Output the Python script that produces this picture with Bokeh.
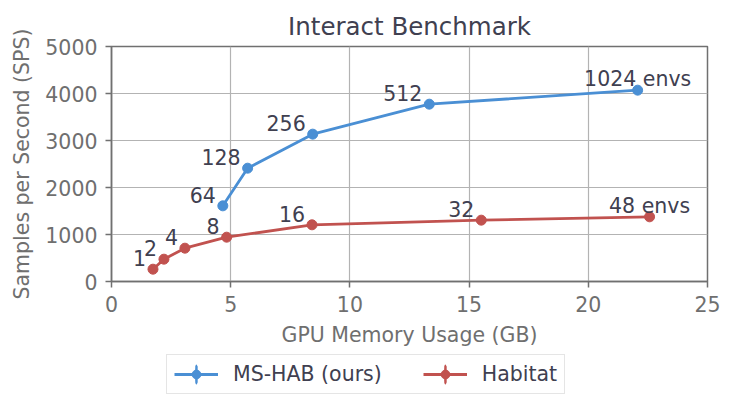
import math
from bokeh.plotting import figure
from bokeh.layouts import column
from bokeh.models import ColumnDataSource, Legend, LegendItem, FixedTicker
from bokeh.core.properties import value
from bokeh.embed import file_html
from bokeh.resources import INLINE

# ---- data ----
mshab_mem = [4.67, 5.71, 8.44, 13.33, 22.07]
mshab_sps = [1610, 2411, 3135, 3773, 4071]
mshab_labels = ["64", "128", "256", "512", "1024 envs"]

habitat_mem = [1.74, 2.20, 3.08, 4.83, 8.41, 15.51, 22.57]
habitat_sps = [262, 475, 709, 943, 1206, 1305, 1376]
habitat_labels = ["1", "2", "4", "8", "16", "32", "48 envs"]

series_names = ["MS-HAB (ours)", "Habitat"]

x_ticks = [0, 5, 10, 15, 20, 25]
y_ticks = [0, 1000, 2000, 3000, 4000, 5000]

BLUE = "#4a8fd4"
RED = "#c1524f"
DARK = "#404050"
GRAY = "#6f6f6f"
FONT = "DejaVu Sans"
FS = "20.5px"

p = figure(width=735, height=349, x_range=(0, 25), y_range=(0, 5000),
           output_backend="svg", toolbar_location=None,
           min_border_left=111, min_border_right=28,
           min_border_top=46, min_border_bottom=68,
           title="Interact Benchmark")

p.title.text_font = FONT
p.title.text_font_size = "24.5px"
p.title.text_font_style = "normal"
p.title.text_color = DARK
p.title.align = "center"
p.title.standoff = 12

p.xaxis.ticker = FixedTicker(ticks=x_ticks)
p.yaxis.ticker = FixedTicker(ticks=y_ticks)
p.xaxis.axis_label = "GPU Memory Usage (GB)"
p.yaxis.axis_label = "Samples per Second (SPS)"
for ax in (p.xaxis[0], p.yaxis[0]):
    ax.axis_label_text_font = FONT
    ax.axis_label_text_font_size = FS
    ax.axis_label_text_font_style = "normal"
    ax.axis_label_text_color = GRAY
    ax.major_label_text_font = FONT
    ax.major_label_text_font_size = FS
    ax.major_label_text_color = GRAY
    ax.axis_line_color = "#707070"
    ax.axis_line_width = 1.5
    ax.major_tick_line_color = "#707070"
    ax.major_tick_line_width = 1.5
    ax.major_tick_out = 6
    ax.major_tick_in = 0
    ax.minor_tick_line_color = None
    ax.major_label_standoff = 8
    ax.axis_label_standoff = 8
p.yaxis[0].major_label_orientation = "horizontal"

p.xgrid.ticker = FixedTicker(ticks=x_ticks)
p.ygrid.ticker = FixedTicker(ticks=y_ticks)
p.grid.grid_line_color = "#b3b3b3"
p.grid.grid_line_width = 1.2
p.outline_line_color = "#707070"
p.outline_line_width = 1.5
p.background_fill_color = "white"
p.border_fill_color = "white"

# legend-only figure underneath (frames are aligned with the main figure)
lf = figure(width=735, height=60, x_range=(0, 1), y_range=(0, 1),
            output_backend="svg", toolbar_location=None,
            x_axis_location=None, y_axis_location=None,
            min_border=0, min_border_left=0, min_border_right=0,
            min_border_top=0, min_border_bottom=0)
lf.grid.visible = False
lf.outline_line_color = None
lf.background_fill_color = "white"
lf.border_fill_color = "white"

legend_items = []
for name, xs, ys, labs, col in [
    (series_names[0], mshab_mem, mshab_sps, mshab_labels, BLUE),
    (series_names[1], habitat_mem, habitat_sps, habitat_labels, RED),
]:
    src = ColumnDataSource(dict(x=xs, y=ys))
    p.line("x", "y", source=src, line_color=col, line_width=2.8)
    p.scatter("x", "y", source=src, marker="circle", size=10,
              fill_color=col, line_color=col)

    align = ["right"] * (len(labs) - 1) + ["center"]
    dx = [-7 if a == "right" else 0 for a in align]
    tsrc = ColumnDataSource(dict(x=xs, y=ys, t=labs, a=align, dx=dx))
    p.text("x", "y", text="t", source=tsrc, text_align="a", x_offset="dx",
           y_offset=-11, text_baseline="alphabetic",
           text_font=value(FONT), text_font_size=value(FS), text_color=DARK)

    nan_src = ColumnDataSource(dict(x=[math.nan], y=[math.nan]))
    l_ln = lf.line("x", "y", source=nan_src, line_color=col, line_width=2.8)
    l_err = lf.ellipse("x", "y", source=nan_src, width=0.2, height=20,
                       width_units="screen", height_units="screen",
                       fill_alpha=0, line_color=col, line_width=2.5)
    l_sc = lf.scatter("x", "y", source=nan_src, marker="circle", size=10,
                      fill_color=col, line_color=col)
    legend_items.append(LegendItem(label=name, renderers=[l_ln, l_err, l_sc]))

legend = Legend(items=legend_items, orientation="horizontal",
                location=(55, 15), margin=0, padding=7, spacing=41,
                label_standoff=15, glyph_width=44, glyph_height=22,
                label_text_font=FONT, label_text_font_size=FS,
                label_text_color=DARK, border_line_color="#cccccc",
                border_line_width=1.5, background_fill_color="white",
                background_fill_alpha=1.0)
lf.add_layout(legend, "center")

layout = column(p, lf, spacing=0)
open("out.html", "w").write(file_html(layout, INLINE))
